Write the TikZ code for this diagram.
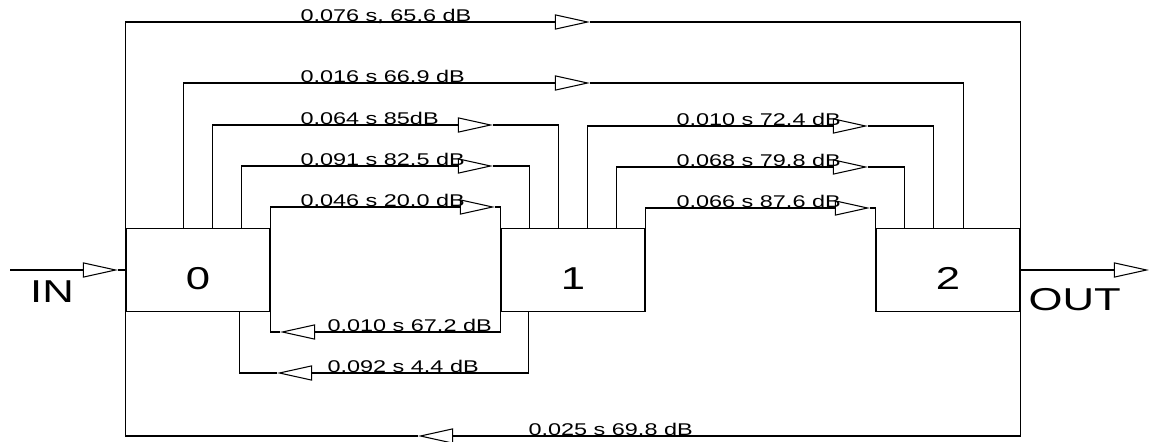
\documentclass[tikz,border=0pt]{standalone}
\usepackage{fontspec}
\setmainfont{Liberation Sans}[FakeStretch=1.38]
\usetikzlibrary{arrows.meta,positioning,calc}

\begin{document}
\begin{tikzpicture}[x=0.03cm, y=0.03cm, line width=0.9pt,
    box/.style={draw, minimum width=4.32cm, minimum height=2.49cm, inner sep=0pt, text height=1.16cm, text depth=0pt, font=\fontsize{27}{30}\selectfont},
    lbl/.style={anchor=base west, inner sep=0pt, font=\fontsize{14.5}{16}\selectfont},
    io/.style={inner sep=0pt, font=\fontsize{27}{30}\selectfont},
    fwd/.style={-{Triangle[open, fill=white, length=30pt, width=13pt]}}
  ]
    \useasboundingbox (0,0) rectangle (1151,441);
    % the three blocks
    \node[box] (b0) at (198,171) {0};
    \node[box] (b1) at (573,171) {1};
    \node[box] (b2) at (948,171) {2};
    % input and output
    \coordinate (src) at (10,171);
    \coordinate (ain) at (118,171);
    \coordinate (aout) at (1149,171);
    \draw[fwd] (src) -- (ain);
    \draw (ain) -- (b0.west);
    \draw[fwd] (b2.east) -- (aout);
    \node[io] (in) at (52,149) {IN};
    \node[io, anchor=west] (out) at (1028,141) {OUT};
    % forward paths
    \coordinate (f1) at (590,419);
    \coordinate (f2) at (590,358);
    \coordinate (f3) at (493,316);
    \coordinate (f4) at (493,275);
    \coordinate (f5) at (495,234);
    \coordinate (f6) at (868,315);
    \coordinate (f7) at (868,274);
    \coordinate (f8) at (870,233);
    \draw[fwd] (b0.north west) |- (f1);
    \draw (f1) -| (b2.north east);
    \draw[fwd] ($(b0.north west)+(58,0)$) |- (f2);
    \draw (f2) -| ($(b2.north west)+(88,0)$);
    \draw[fwd] ($(b0.north west)+(87,0)$) |- (f3);
    \draw (f3) -| ($(b1.north west)+(58,0)$);
    \draw[fwd] ($(b0.north west)+(116,0)$) |- (f4);
    \draw (f4) -| ($(b1.north west)+(29,0)$);
    \draw[fwd] (b0.north east) |- (f5);
    \draw (f5) -| (b1.north west);
    \draw[fwd] ($(b1.north west)+(87,0)$) |- (f6);
    \draw (f6) -| ($(b2.north west)+(58,0)$);
    \draw[fwd] ($(b1.north west)+(116,0)$) |- (f7);
    \draw (f7) -| ($(b2.north west)+(29,0)$);
    \draw[fwd] (b1.north east) |- (f8);
    \draw (f8) -| (b2.north west);
    % feedback paths
    \coordinate (r1) at (280,109);
    \coordinate (r2) at (277,68);
    \coordinate (r3) at (418,5);
    \draw[fwd] (b1.south west) |- (r1);
    \draw (r1) -| (b0.south east);
    \draw[fwd] ($(b1.south west)+(28,0)$) |- (r2);
    \draw (r2) -| ($(b0.south west)+(114,0)$);
    \draw[fwd] (b2.south east) |- (r3);
    \draw (r3) -| (b0.south west);
    % delays and levels
    \node[lbl] (l1) at (300,419.5) {0.076 s, 65.6 dB};
    \node[lbl] (l2) at (300,358.5) {0.016 s 66.9 dB};
    \node[lbl] (l3) at (300,316.5) {0.064 s 85dB};
    \node[lbl] (l4) at (300,275.5) {0.091 s 82.5 dB};
    \node[lbl] (l5) at (300,234.5) {0.046 s 20.0 dB};
    \node[lbl] (l6) at (676,315.5) {0.010 s 72.4 dB};
    \node[lbl] (l7) at (676,274.5) {0.068 s 79.8 dB};
    \node[lbl] (l8) at (676,233.5) {0.066 s 87.6 dB};
    \node[lbl] (l9) at (327,109.5) {0.010 s 67.2 dB};
    \node[lbl] (l10) at (327,68.5) {0.092 s 4.4 dB};
    \node[lbl] (l11) at (528,5.5) {0.025 s 69.8 dB};
  \end{tikzpicture}
\end{document}
